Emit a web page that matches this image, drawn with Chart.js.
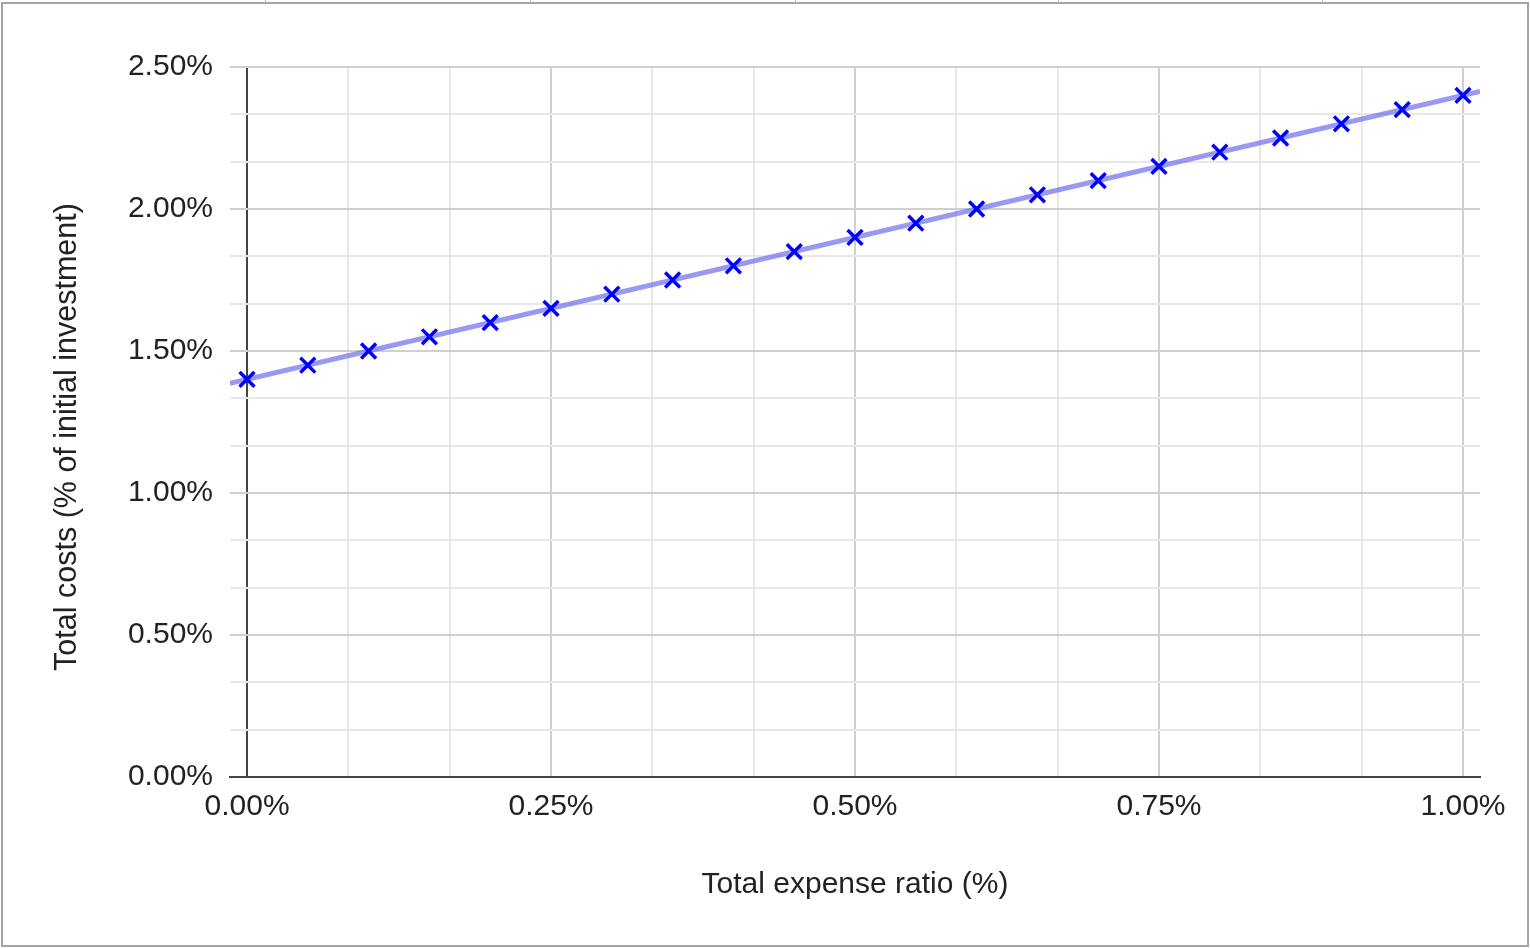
<!DOCTYPE html>
<html>
<head>
<meta charset="utf-8">
<script src="https://cdn.jsdelivr.net/npm/chart.js@4/dist/chart.umd.min.js"></script>
<style>
  html, body { margin: 0; padding: 0; background: #fff; }
  #wrap { position: relative; width: 1530px; height: 948px; overflow: hidden; }
  #chart { position: absolute; left: 0; top: 0; }
  .frame { position: absolute; left: 1px; top: 2px; width: 1524px; height: 941px; border: 2px solid #a4a4a4; }
  .cellmark { position: absolute; top: 0; width: 1px; height: 3px; background: #bbb; }
</style>
</head>
<body>
<div id="wrap">
  <canvas id="chart" width="1530" height="948"></canvas>
  <div class="frame"></div>
  <div class="cellmark" style="left:265px"></div>
  <div class="cellmark" style="left:530px"></div>
  <div class="cellmark" style="left:795px"></div>
  <div class="cellmark" style="left:1058px"></div>
  <div class="cellmark" style="left:1322px"></div>
</div>
<script>
// chart values (percent)
var expenseRatio = [0, 0.05, 0.10, 0.15, 0.20, 0.25, 0.30, 0.35, 0.40, 0.45, 0.50,
  0.55, 0.60, 0.65, 0.70, 0.75, 0.80, 0.85, 0.90, 0.95, 1.00];
var totalCosts = [1.40, 1.45, 1.50, 1.55, 1.60, 1.65, 1.70, 1.75, 1.80, 1.85, 1.90,
  1.95, 2.00, 2.05, 2.10, 2.15, 2.20, 2.25, 2.30, 2.35, 2.40];
var xMajorTicks = [0, 0.25, 0.50, 0.75, 1.00];
var yMajorTicks = [0, 0.50, 1.00, 1.50, 2.00, 2.50];
var xRange = [-0.014, 1.014];
var xTitle = 'Total expense ratio (%)';
var yTitle = 'Total costs (% of initial investment)';

var FONT = '"Liberation Sans", Arial, Helvetica, sans-serif';

// gridlines: each major interval split in 3
function withMinor(major) {
  var out = [];
  for (var i = 0; i < major.length; i++) {
    out.push(major[i]);
    if (i < major.length - 1) {
      var step = (major[i + 1] - major[i]) / 3;
      out.push(major[i] + step, major[i] + 2 * step);
    }
  }
  return out;
}
function isMajor(list, v) {
  for (var i = 0; i < list.length; i++) {
    if (Math.abs(list[i] - v) < 1e-6) return true;
  }
  return false;
}

// least squares trendline
function trend(xs, ys) {
  var n = xs.length, sx = 0, sy = 0, sxx = 0, sxy = 0;
  for (var i = 0; i < n; i++) {
    sx += xs[i]; sy += ys[i]; sxx += xs[i] * xs[i]; sxy += xs[i] * ys[i];
  }
  var m = (n * sxy - sx * sy) / (n * sxx - sx * sx);
  var b = (sy - m * sx) / n;
  return xRange.map(function (x) { return {x: x, y: m * x + b}; });
}

var points = expenseRatio.map(function (x, i) { return {x: x, y: totalCosts[i]}; });

function gridColor(list) {
  return function (ctx) {
    var v = ctx.tick ? ctx.tick.value : null;
    if (v === null) return '#e6e6e6';
    if (Math.abs(v) < 1e-6) return '#444';
    return isMajor(list, v) ? '#cfcfcf' : '#e8e8e8';
  };
}

// y title drawn by hand, sits a bit below the plot centre like the original
var yTitlePlugin = {
  id: 'yTitle',
  afterDraw: function (chart) {
    var ctx = chart.ctx, area = chart.chartArea;
    ctx.save();
    ctx.translate(68, (area.top + area.bottom) / 2 + 15);
    ctx.rotate(-Math.PI / 2);
    ctx.font = '30.5px ' + FONT;
    ctx.fillStyle = '#222';
    ctx.textAlign = 'center';
    ctx.textBaseline = 'middle';
    ctx.fillText(yTitle, 0, 0);
    ctx.restore();
  }
};

new Chart(document.getElementById('chart'), {
  type: 'scatter',
  data: {
    datasets: [{
      label: 'Total costs',
      data: points,
      pointStyle: 'crossRot',
      pointRadius: 10.5,
      pointHoverRadius: 10.5,
      borderColor: '#0000ff',
      backgroundColor: '#0000ff',
      pointBorderWidth: 3.5,
      showLine: false
    }, {
      label: 'Trendline',
      data: trend(expenseRatio, totalCosts),
      showLine: true,
      borderColor: 'rgba(110, 110, 240, 0.7)',
      borderWidth: 5,
      pointRadius: 0,
      pointHoverRadius: 0,
      fill: false
    }]
  },
  plugins: [yTitlePlugin],
  options: {
    responsive: false,
    animation: false,
    events: [],
    layout: {padding: {left: 0, top: 67, right: 50, bottom: 0}},
    plugins: {legend: {display: false}, tooltip: {enabled: false}},
    scales: {
      x: {
        type: 'linear',
        min: xRange[0],
        max: xRange[1],
        afterBuildTicks: function (scale) {
          scale.ticks = withMinor(xMajorTicks).map(function (v) { return {value: v}; });
        },
        afterFit: function (scale) { scale.height = 171; },
        border: {display: true, color: '#444', width: 2},
        grid: {color: gridColor(xMajorTicks), lineWidth: 2, drawTicks: false},
        ticks: {
          autoSkip: false, maxRotation: 0, padding: 12, color: '#222',
          font: {family: FONT, size: 30},
          callback: function (v) { return isMajor(xMajorTicks, v) ? v.toFixed(2) + '%' : ''; }
        },
        title: {display: true, text: xTitle, color: '#222', font: {family: FONT, size: 30},
          padding: {top: 0, bottom: 45}}
      },
      y: {
        type: 'linear',
        min: yMajorTicks[0],
        max: yMajorTicks[yMajorTicks.length - 1],
        afterBuildTicks: function (scale) {
          scale.ticks = withMinor(yMajorTicks).map(function (v) { return {value: v}; });
        },
        afterFit: function (scale) { scale.width = 230; },
        border: {display: false},
        grid: {color: gridColor(yMajorTicks), lineWidth: 2, drawTicks: false},
        ticks: {
          autoSkip: false, padding: 17, color: '#222',
          font: {family: FONT, size: 30},
          callback: function (v) { return isMajor(yMajorTicks, v) ? v.toFixed(2) + '%' : ''; }
        },
        title: {display: false}
      }
    }
  }
});
</script>
</body>
</html>
